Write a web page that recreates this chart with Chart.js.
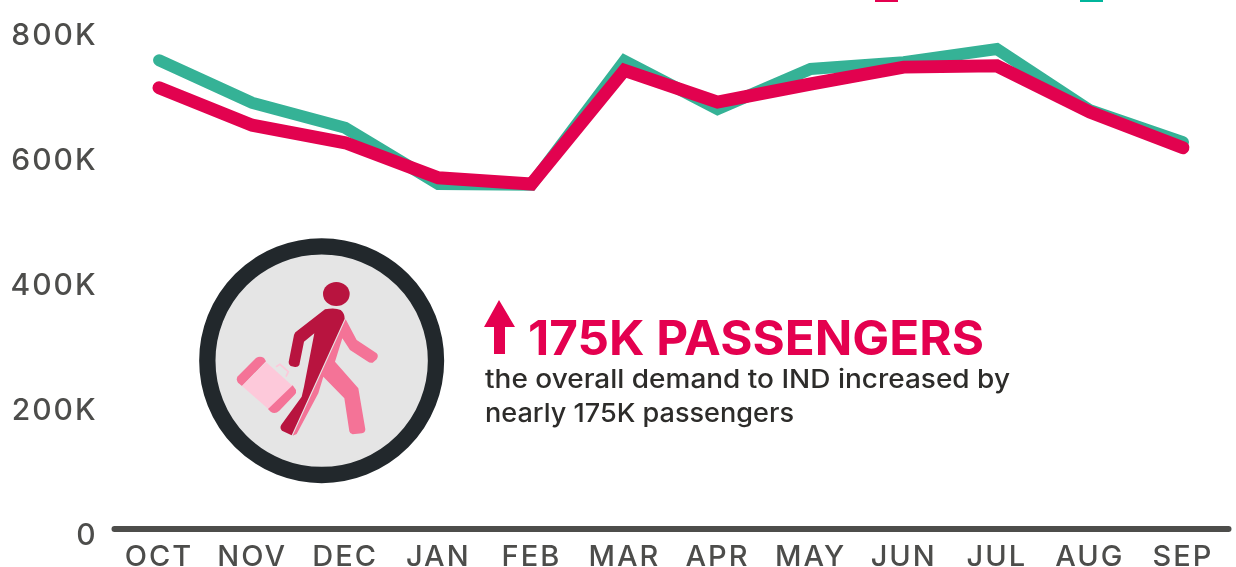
<!DOCTYPE html>
<html><head><meta charset="utf-8">
<script src="https://cdn.jsdelivr.net/npm/chart.js@4"></script>
<style>
html,body{margin:0;padding:0;background:#fff;overflow:hidden}
#wrap{position:relative;width:1236px;height:567px}
canvas{position:absolute;left:0;top:0}
svg{position:absolute;left:0;top:0;pointer-events:none}
</style></head><body>
<div id="wrap">
<canvas id="c" width="1236" height="567"></canvas>
<svg width="1236" height="567" viewBox="0 0 1236 567">
  <g transform="translate(180,230) scale(0.33333)">
    <circle cx="425" cy="392" r="343" fill="#e5e5e5" stroke="#22282c" stroke-width="49"/>
    <path d="M172 440 L228 384 Q240 376 252 384 L258 394 L186 468 L174 458 Q168 450 172 440 Z" fill="#f47397"/>
    <path d="M258 396 L338 468 L265 537 L186 468 Z" fill="#fdc9da"/>
    <path d="M338 466 L348 480 Q350 488 344 494 L298 542 Q285 554 272 545 L264 537 Z" fill="#f47397"/>
    <path d="M288 410 L300 403 L325 425 L318 440" fill="none" stroke="#fdc9da" stroke-width="5"/>
    <path d="M497 268 L530 330 L590 370 Q597 378 590 388 L578 398 Q570 400 562 394 L510 360 L487 325 L465 395 L535 475 L556 598 Q556 608 546 610 L518 613 Q510 612 508 604 L493 505 L430 440 L415 490 L350 612 L338 617 Z" fill="#f47397"/>
    <path d="M435 238 Q465 232 482 240 Q494 250 494 266 L335 616 L306 602 Q298 594 304 584 L365 500 L372 470 L403 310 L372 335 L358 405 Q354 412 345 411 L332 408 Q325 404 326 396 L342 315 Q344 306 352 302 Z" fill="#b8143f"/>
    <ellipse cx="469" cy="192" rx="40" ry="36" fill="#b8143f"/>
  </g>
  <path d="M499 300 L515 327 L505 327 L505 354 L494 354 L494 327 L484 327 Z" fill="#e4004f"/>
  <text x="528" y="355" font-family="Inter, 'Open Sans', sans-serif" font-weight="700" font-size="48" fill="#e4004f" textLength="456" lengthAdjust="spacingAndGlyphs">175K PASSENGERS</text>
  <text x="485" y="388" font-family="Inter, 'Open Sans', sans-serif" font-weight="500" font-size="26" fill="#2d2c2a" textLength="525" lengthAdjust="spacingAndGlyphs">the overall demand to IND increased by</text>
  <text x="485" y="422" font-family="Inter, 'Open Sans', sans-serif" font-weight="500" font-size="26" fill="#2d2c2a" textLength="309" lengthAdjust="spacingAndGlyphs">nearly 175K passengers</text>
</svg>
</div>
<script>
const categories = ['OCT','NOV','DEC','JAN','FEB','MAR','APR','MAY','JUN','JUL','AUG','SEP'];
const redSeries  = [706,646,618,562,552,734,683,712,739,741,667,610];
const tealSeries = [750,682,642,552,551,749,672,736,747,768,670,619];
const yTicks = [0,200,400,600,800];
const font = {family:"Inter, 'Open Sans', sans-serif", size:30, weight:'500'};

const extras = {
  id:'extras',
  beforeLayout(chart){ chart.ctx.letterSpacing = '2px'; },
  beforeDraw(chart){ chart.ctx.letterSpacing = '2px'; },
  beforeDatasetsDraw(chart){
    const c = chart.ctx, y = chart.scales.y.getPixelForValue(0), a = chart.chartArea;
    c.save();
    c.strokeStyle = '#4d4d4b'; c.lineWidth = 6; c.lineCap = 'round';
    c.beginPath(); c.moveTo(a.left+2, y); c.lineTo(a.right-1, y); c.stroke();
    c.fillStyle = '#e4004f'; c.fillRect(875,0,23,2);
    c.fillStyle = '#00b59b'; c.fillRect(1080,0,23,2);
    c.restore();
  }
};

new Chart(document.getElementById('c'), {
  type:'line',
  plugins:[extras],
  data:{labels:categories, datasets:[
    {label:'Red series', data:redSeries, borderColor:'#e2024f', borderWidth:13},
    {label:'Teal series', data:tealSeries, borderColor:'#35b296', borderWidth:12}
  ]},
  options:{
    responsive:false, animation:false,
    layout:{padding:{top:29,right:6.5,left:0,bottom:0}},
    elements:{point:{radius:0}, line:{tension:0, borderCapStyle:'round', borderJoinStyle:'miter'}},
    plugins:{legend:{display:false}, title:{display:false}, tooltip:{enabled:false}},
    scales:{
      x:{
        offset:true,
        grid:{display:false, drawTicks:false}, border:{display:false},
        ticks:{color:'#4d4d4b', font:{...font,size:29}, padding:11, maxRotation:0, autoSkip:false},
        afterFit(s){s.height=38; s.paddingLeft=0; s.paddingRight=0;}
      },
      y:{
        min:0,max:800,
        grid:{display:false, drawTicks:false}, border:{display:false},
        afterBuildTicks(s){s.ticks = yTicks.map(v=>({value:v}));},
        ticks:{color:'#4d4d4b', font, padding:15, labelOffset:6.5,
          callback:v=> v===0 ? '0' : v+'K'},
        afterFit(s){s.width=112.5; s.paddingTop=0; s.paddingBottom=0;}
      }
    }
  }
});
</script>
</body></html>
